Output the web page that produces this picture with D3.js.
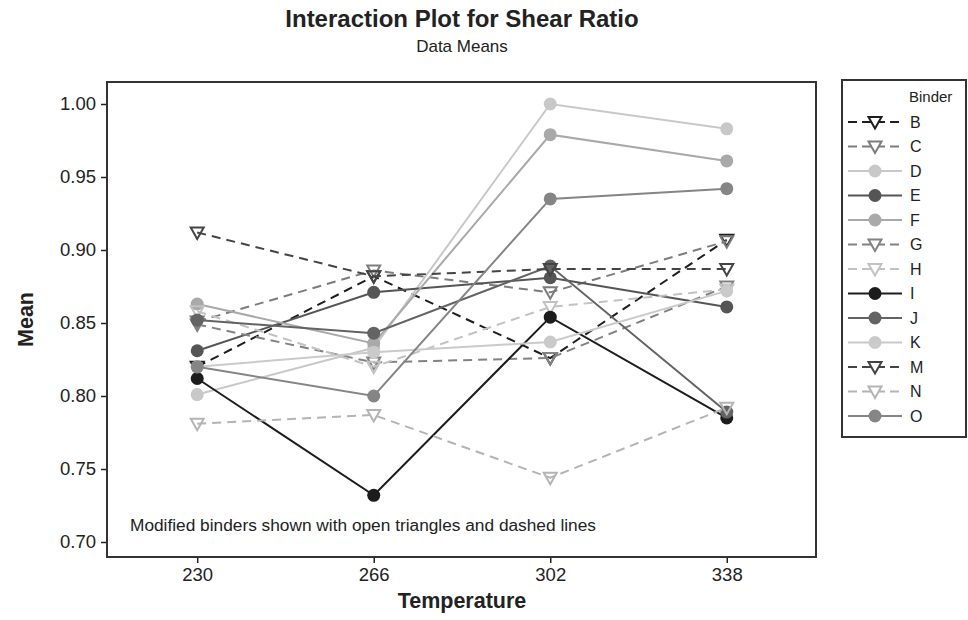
<!DOCTYPE html>
<html>
<head>
<meta charset="utf-8">
<script src="https://cdn.jsdelivr.net/npm/d3@7"></script>
<style>
  body { margin: 0; background: #fff; }
  svg { font-family: "Liberation Sans", Arial, sans-serif; }
</style>
</head>
<body>
<svg id="canvas"></svg>
<script>
// temperatures on the x axis
const temps = [230, 266, 302, 338];
const yTicks = [0.70, 0.75, 0.80, 0.85, 0.90, 0.95, 1.00];

// binder means, one array per binder
const binderB = [0.820, 0.882, 0.826, 0.907];
const binderC = [0.851, 0.886, 0.871, 0.906];
const binderD = [0.801, 0.833, 1.000, 0.983];
const binderE = [0.831, 0.871, 0.881, 0.861];
const binderF = [0.863, 0.836, 0.979, 0.961];
const binderG = [0.849, 0.823, 0.826, 0.875];
const binderH = [0.858, 0.820, 0.861, 0.873];
const binderI = [0.812, 0.732, 0.854, 0.785];
const binderJ = [0.852, 0.843, 0.889, 0.789];
const binderK = [0.820, 0.830, 0.837, 0.872];
const binderM = [0.912, 0.882, 0.887, 0.887];
const binderN = [0.781, 0.787, 0.744, 0.792];
const binderO = [0.820, 0.800, 0.935, 0.942];

const binderNames = ["B","C","D","E","F","G","H","I","J","K","M","N","O"];
const binderValues = [binderB, binderC, binderD, binderE, binderF, binderG, binderH,
                      binderI, binderJ, binderK, binderM, binderN, binderO];
const modified = ["B","C","G","H","M","N"];

const colors = {
  B: "#1e1e1e", C: "#7c7c7c", D: "#c8c8c8", E: "#555555", F: "#a9a9a9",
  G: "#828282", H: "#c2c2c2", I: "#1c1c1c", J: "#636363", K: "#cacaca",
  M: "#444444", N: "#b4b4b4", O: "#858585"
};

const width = 968;
const height = 620;
const plot = { left: 107, right: 816, top: 82, bottom: 557 };

let canvas = d3.select('#canvas')
  .attr('width', width)
  .attr('height', height);

const xScale = d3.scaleLinear()
  .domain([211.6, 356.2])
  .range([plot.left, plot.right]);

const yScale = d3.scaleLinear()
  .domain([0.70, 1.00])
  .range([542, 104]);

// titles
canvas.append('text')
  .attr('x', 462).attr('y', 27)
  .attr('text-anchor', 'middle')
  .style('font-size', '24px').style('font-weight', 'bold').style('fill', '#222')
  .text('Interaction Plot for Shear Ratio');
canvas.append('text')
  .attr('x', 462).attr('y', 52)
  .attr('text-anchor', 'middle')
  .style('font-size', '17px').style('fill', '#222')
  .text('Data Means');

// axes
const xAxis = d3.axisBottom(xScale).tickValues(temps).tickSize(6).tickPadding(5);
const gx = canvas.append('g')
  .attr('transform', 'translate(0,' + plot.bottom + ')')
  .call(xAxis);
gx.select('.domain').remove();

const yAxis = d3.axisLeft(yScale).tickValues(yTicks).tickSize(6).tickPadding(5)
  .tickFormat(d3.format('.2f'));
const gy = canvas.append('g')
  .attr('transform', 'translate(' + plot.left + ',0)')
  .call(yAxis);
gy.select('.domain').remove();

canvas.selectAll('.tick text').style('font-size', '18.5px').style('fill', '#222')
  .style('font-family', '"Liberation Sans", Arial, sans-serif');
canvas.selectAll('.tick line').style('stroke', '#222').style('stroke-width', 1.5);

canvas.append('rect')
  .attr('x', plot.left).attr('y', plot.top)
  .attr('width', plot.right - plot.left).attr('height', plot.bottom - plot.top)
  .attr('fill', 'none').attr('stroke', '#333').attr('stroke-width', 2);

canvas.append('text')
  .attr('x', 462).attr('y', 608)
  .attr('text-anchor', 'middle')
  .style('font-size', '21.5px').style('font-weight', 'bold').style('fill', '#222')
  .text('Temperature');
canvas.append('text')
  .attr('transform', 'translate(33,' + (plot.top + plot.bottom) / 2 + ') rotate(-90)')
  .attr('text-anchor', 'middle')
  .style('font-size', '21.5px').style('font-weight', 'bold').style('fill', '#222')
  .text('Mean');

// lines and markers
const line = d3.line()
  .x((d, i) => xScale(temps[i]))
  .y(d => yScale(d));

const triPath = 'M-6.5,-5 L6.5,-5 L0,6.5 Z';

const series = binderNames.map((name, i) => ({ name: name, values: binderValues[i] }));

const groups = canvas.selectAll('.binder')
  .data(series)
  .enter()
  .append('g')
  .attr('class', 'binder');

groups.append('path')
  .attr('d', d => line(d.values))
  .attr('fill', 'none')
  .attr('stroke', d => colors[d.name])
  .attr('stroke-width', 2)
  .attr('stroke-dasharray', d => modified.includes(d.name) ? '9,6' : null);

groups.each(function (d) {
  const g = d3.select(this);
  const isMod = modified.includes(d.name);
  d.values.forEach((v, i) => {
    if (isMod) {
      g.append('path')
        .attr('d', triPath)
        .attr('transform', 'translate(' + xScale(temps[i]) + ',' + yScale(v) + ')')
        .attr('fill', 'none')
        .attr('stroke', colors[d.name])
        .attr('stroke-width', 2);
    } else {
      g.append('circle')
        .attr('cx', xScale(temps[i]))
        .attr('cy', yScale(v))
        .attr('r', 6.5)
        .attr('fill', colors[d.name]);
    }
  });
});

// annotation
canvas.append('text')
  .attr('x', 130).attr('y', 531)
  .style('font-size', '17.3px').style('fill', '#222')
  .text('Modified binders shown with open triangles and dashed lines');

// legend
const legend = canvas.append('g');
legend.append('rect')
  .attr('x', 842).attr('y', 80)
  .attr('width', 124).attr('height', 357)
  .attr('fill', 'none').attr('stroke', '#333').attr('stroke-width', 2);
legend.append('text')
  .attr('x', 909).attr('y', 102)
  .style('font-size', '15px').style('fill', '#222')
  .text('Binder');

const legendRows = legend.selectAll('.row')
  .data(series)
  .enter()
  .append('g')
  .attr('class', 'row')
  .attr('transform', (d, i) => 'translate(0,' + (122 + i * 24.5) + ')');

legendRows.append('line')
  .attr('x1', 848).attr('x2', 902)
  .attr('stroke', d => colors[d.name])
  .attr('stroke-width', 2)
  .attr('stroke-dasharray', d => modified.includes(d.name) ? '9,5' : null);

legendRows.each(function (d) {
  const g = d3.select(this);
  if (modified.includes(d.name)) {
    g.append('path')
      .attr('d', triPath)
      .attr('transform', 'translate(875,0)')
      .attr('fill', 'white')
      .attr('stroke', colors[d.name])
      .attr('stroke-width', 2);
  } else {
    g.append('circle')
      .attr('cx', 875).attr('cy', 0).attr('r', 6.5)
      .attr('fill', colors[d.name]);
  }
});

legendRows.append('text')
  .attr('x', 910).attr('y', 5.5)
  .style('font-size', '16px').style('fill', '#222')
  .text(d => d.name);
</script>
</body>
</html>
